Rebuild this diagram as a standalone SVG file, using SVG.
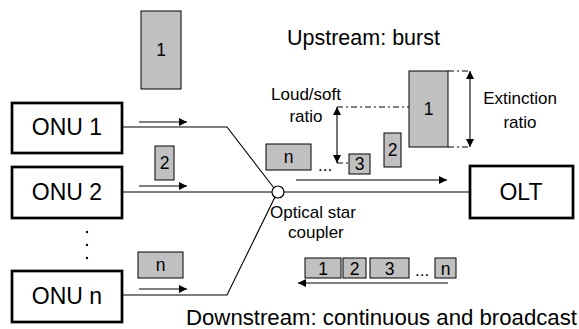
<svg xmlns="http://www.w3.org/2000/svg" width="579" height="329" viewBox="0 0 579 329">
  <style>
    .box { fill: #ffffff; stroke: #000000; stroke-width: 2.7; }
    .pkt { fill: #c0c0c0; stroke: #000000; stroke-width: 1; }
    .ln { fill: none; stroke: #000000; stroke-width: 1.1; }
    .dd { fill: none; stroke: #000000; stroke-width: 1; stroke-dasharray: 6 3 2 3; }
    text { font-family: "Liberation Sans", Arial, sans-serif; fill: #000000; }
    .big { font-size: 23px; }
    .mid { font-size: 17px; }
    .pl { font-size: 17.5px; text-anchor: middle; }
  </style>
  <defs>
    <marker id="ah" viewBox="0 0 10 10" refX="10" refY="5" markerWidth="9" markerHeight="8" markerUnits="userSpaceOnUse" orient="auto-start-reverse">
      <path d="M0,0 L10,5 L0,10 z" fill="#000000"/>
    </marker>
  </defs>

  <!-- nodes -->
  <g id="onu1">
    <rect class="box" x="12" y="103" width="110" height="50"/>
    <text class="big" x="67" y="135" text-anchor="middle">ONU 1</text>
  </g>
  <g id="onu2">
    <rect class="box" x="12" y="167" width="110" height="51"/>
    <text class="big" x="67" y="200" text-anchor="middle">ONU 2</text>
  </g>
  <g id="onun">
    <rect class="box" x="12" y="271" width="110" height="51"/>
    <text class="big" x="67" y="304" text-anchor="middle">ONU n</text>
  </g>
  <g id="olt">
    <rect class="box" x="470" y="166" width="103" height="52"/>
    <text class="big" x="521" y="200" text-anchor="middle">OLT</text>
  </g>
  <g id="coupler">
    <circle cx="278" cy="192" r="6" fill="#ffffff" stroke="#000000" stroke-width="1.2"/>
    <text class="mid" x="270" y="218">Optical star</text>
    <text class="mid" x="288" y="238">coupler</text>
  </g>

  <!-- connectors -->
  <g id="connectors">
    <path class="ln" d="M122,127 H227 L274,188"/>
    <path class="ln" d="M122,192 H272"/>
    <path class="ln" d="M122,295 H227 L275,197"/>
    <path class="ln" d="M284,192 H470"/>
    <!-- direction arrows -->
    <path class="ln" d="M139,122 H187" marker-end="url(#ah)"/>
    <path class="ln" d="M139,186 H187" marker-end="url(#ah)"/>
    <path class="ln" d="M139,289 H187" marker-end="url(#ah)"/>
    <path class="ln" d="M296,180 H447" marker-end="url(#ah)"/>
    <path class="ln" d="M448,283 H298" marker-end="url(#ah)"/>
  </g>

  <!-- dots between ONU 2 and ONU n -->
  <g id="ellipsis" fill="#000000">
    <circle cx="87" cy="232" r="1.2"/>
    <circle cx="87" cy="245" r="1.2"/>
    <circle cx="87" cy="258" r="1.2"/>
  </g>

  <!-- packets at the ONUs -->
  <g id="onu-packets">
    <rect class="pkt" x="141" y="11" width="40" height="78"/>
    <text class="pl" x="161" y="56">1</text>
    <rect class="pkt" x="155" y="146" width="19" height="34"/>
    <text class="pl" x="164.5" y="169">2</text>
    <rect class="pkt" x="138" y="252" width="45" height="26"/>
    <text class="pl" x="160.5" y="271">n</text>
  </g>

  <!-- upstream burst -->
  <g id="upstream">
    <text x="287" y="45" style="font-size:21.5px">Upstream: burst</text>
    <rect class="pkt" x="266" y="144" width="45" height="26"/>
    <text class="pl" x="288.5" y="163">n</text>
    <text class="mid" x="318" y="171">...</text>
    <rect class="pkt" x="349" y="154" width="21" height="20"/>
    <text class="pl" x="359.5" y="170">3</text>
    <rect class="pkt" x="384" y="133" width="17" height="34"/>
    <text class="pl" x="392.5" y="156">2</text>
    <rect class="pkt" x="409" y="71" width="39" height="76"/>
    <text class="pl" x="428.5" y="115">1</text>

    <text class="mid" x="306" y="100" text-anchor="middle">Loud/soft</text>
    <text class="mid" x="306" y="122" text-anchor="middle">ratio</text>
    <path class="dd" d="M337,107 H409"/>
    <path class="dd" d="M337,163 H349"/>
    <path class="ln" d="M337,135 V107" marker-end="url(#ah)"/>
    <path class="ln" d="M337,135 V163" marker-end="url(#ah)"/>

    <path class="dd" d="M448,71 H470"/>
    <path class="dd" d="M448,147 H470"/>
    <path class="ln" d="M470,109 V71" marker-end="url(#ah)"/>
    <path class="ln" d="M470,109 V147" marker-end="url(#ah)"/>
    <text class="mid" x="520" y="104" text-anchor="middle">Extinction</text>
    <text class="mid" x="520" y="128" text-anchor="middle">ratio</text>
  </g>

  <!-- downstream broadcast -->
  <g id="downstream">
    <rect class="pkt" x="305" y="258" width="36" height="20"/>
    <text class="pl" x="323" y="275">1</text>
    <rect class="pkt" x="343" y="258" width="23" height="20"/>
    <text class="pl" x="354.5" y="275">2</text>
    <rect class="pkt" x="370" y="258" width="39" height="20"/>
    <text class="pl" x="389.5" y="275">3</text>
    <text class="mid" x="415" y="276">...</text>
    <rect class="pkt" x="435" y="258" width="21" height="20"/>
    <text class="pl" x="445.5" y="275">n</text>
    <text x="186" y="325" style="font-size:22.2px">Downstream: continuous and broadcast</text>
  </g>
</svg>
